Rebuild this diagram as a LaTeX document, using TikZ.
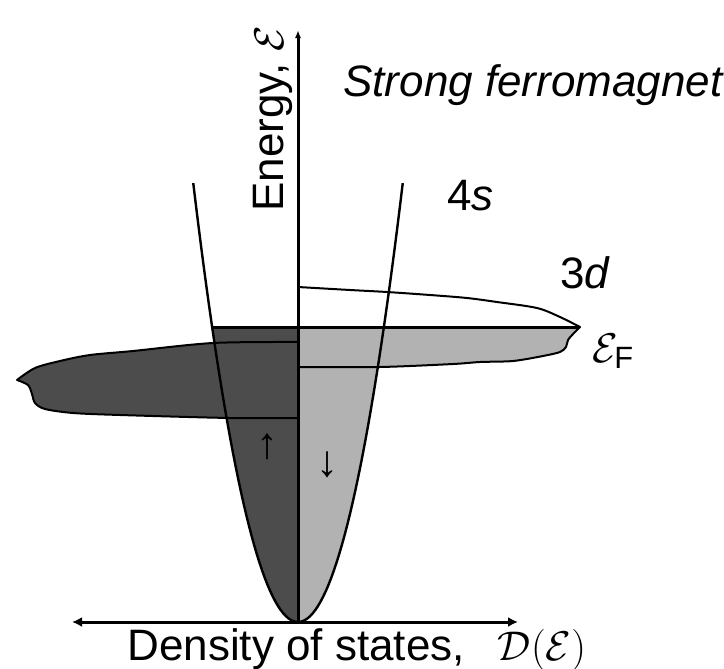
\documentclass[tikz,border=0pt]{standalone}
\usepackage{amsmath}
\usepackage{fontspec}
\setmainfont{Liberation Sans}
\usetikzlibrary{arrows.meta}
\definecolor{SpinUp}{gray}{0.30}
\definecolor{SpinDown}{gray}{0.70}

\begin{document}
\begin{tikzpicture}[x=0.5pt,y=-0.5pt,
    every node/.style={inner sep=0pt,font=\fontsize{22}{26}\selectfont},
    bandline/.style={draw=black,line width=1pt,line join=round},
    axisline/.style={black,line width=1.5pt}]
    \useasboundingbox (0,0) rectangle (724,669);
    \coordinate (origin) at (298,622);
    \coordinate (etop) at (298,30);
    \coordinate (dleft) at (72,622);
    \coordinate (dright) at (518,622);
    % spin up: filled up to the Fermi level
    \fill[SpinUp] (origin) -- plot[domain=0:17.18,samples=30] ({298-5*\x},{622-\x*\x}) -- (298,327) -- cycle;
    \filldraw[SpinUp,bandline] plot[smooth] coordinates {(298,342) (213,343) (133,351) (90,355) (60,361) (35,368) (17,380)}
      -- plot[smooth] coordinates {(17,380) (28,385) (32,394) (35,403) (45,409) (73,413) (120,415) (230,418) (298,418)} -- cycle;
    % spin down
    \fill[SpinDown] (origin) -- plot[domain=0:17.18,samples=30] ({298+5*\x},{622-\x*\x}) -- (298,327) -- cycle;
    \fill[SpinDown] (298,327) -- (578,327)
      -- plot[smooth] coordinates {(579,328) (574,333) (568,340) (566,347) (560,352) (543,356) (513,361) (480,362) (453,364) (380,367) (298,367)} -- cycle;
    \draw[bandline] plot[smooth] coordinates {(298,287) (350,290) (387,292) (430,295) (467,298) (497,302) (537,308) (560,317) (580,327)}
      -- plot[smooth] coordinates {(580,327) (574,333) (568,340) (566,347) (560,352) (543,356) (513,361) (480,362) (453,364) (380,367) (298,367)};
    % 4s parabola
    \draw[line width=1.2pt] plot[domain=-20.95:20.95,samples=80] ({298+5*\x},{622-\x*\x});
    % Fermi level
    \draw[axisline] (212,327) -- (578,327);
    % axes
    \draw[axisline,-{Latex[length=4pt,width=3pt]}] (origin) -- (etop);
    \draw[axisline,{Latex[length=5pt,width=5pt]}-{Latex[length=5pt,width=5pt]}] (dleft) -- (dright);
    % labels
    \node[rotate=90,anchor=base west] (energy) at (283,212) {Energy, $\mathcal{E}$};
    \node[anchor=base west,font=\fontsize{22}{26}\selectfont\itshape] (title) at (343,97) {Strong ferromagnet};
    \node[anchor=base west] (fours) at (447,210) {4\textit{s}};
    \node[anchor=base west] (threed) at (560,288) {3\textit{d}};
    \node[anchor=base west] (fermi) at (592,362) {$\mathcal{E}_{\text{F}}$};
    \node (spinup) at (267,447) {↑};
    \node (spindown) at (327,465) {↓};
    \node[anchor=base west] (dos) at (127,660) {Density of states,\hspace{0.75em}$\mathcal{D}(\mathcal{E})$};
  \end{tikzpicture}
\end{document}
